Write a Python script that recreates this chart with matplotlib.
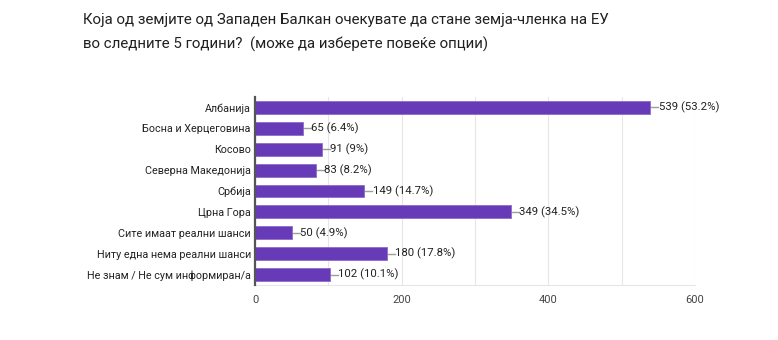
import matplotlib.pyplot as plt

plt.rcParams['font.family'] = ['Roboto', 'DejaVu Sans']

categories = ["Албанија", "Босна и Херцеговина", "Косово", "Северна Македонија",
              "Србија", "Црна Гора", "Сите имаат реални шанси",
              "Ниту една нема реални шанси", "Не знам / Не сум информиран/а"]
counts = [539, 65, 91, 83, 149, 349, 50, 180, 102]
percents = ["53.2%", "6.4%", "9%", "8.2%", "14.7%", "34.5%", "4.9%", "17.8%", "10.1%"]
ticks = [0, 200, 400, 600]

fig = plt.figure(figsize=(7.78, 3.40), dpi=100)
ax = fig.add_axes([255 / 778, 1 - 285 / 340, 440 / 778, 188 / 340])

ypos = list(range(len(categories)))
ax.barh(ypos, counts, height=0.62, color="#673ab7", edgecolor="#8e6cc9", linewidth=0.6, zorder=3)

for y, c, p in zip(ypos, counts, percents):
    ax.plot([c, c + 11], [y, y], color="#9e9e9e", lw=1, zorder=2, clip_on=False)
    ax.text(c + 11.5, y, f"{c} ({p})", va="center", ha="left", fontsize=8.2, color="#222222")

ax.set_xlim(0, 600)
ax.set_ylim(len(categories) - 0.5, -0.5)
ax.set_yticks(ypos)
ax.set_yticklabels(categories, fontsize=7.75, color="#222222")
ax.set_xticks(ticks)
ax.set_xticklabels([str(t) for t in ticks], fontsize=7.9, color="#444444")
ax.set_xticks(range(100, 600, 200), minor=True)
ax.tick_params(axis="both", length=0, pad=3)
ax.tick_params(axis="x", pad=7)
ax.tick_params(axis="x", which="minor", length=0)
ax.grid(axis="x", which="both", color="#e6e6e6", lw=0.8, zorder=0)

for s in ["top", "right"]:
    ax.spines[s].set_visible(False)
ax.spines["bottom"].set_color("#e6e6e6")
ax.spines["left"].set_color("#555555")
ax.spines["left"].set_linewidth(1.6)
ax.spines["left"].set_zorder(4)

fig.text(83 / 778, 1 - 20 / 340, "Која од земјите од Западен Балкан очекувате да стане земја-членка на ЕУ",
         fontsize=10.8, color="#212121", va="center", ha="left")
fig.text(83 / 778, 1 - 44 / 340, "во следните 5 години?  (може да изберете повеќе опции)",
         fontsize=10.8, color="#212121", va="center", ha="left")

fig.savefig("out.png", dpi=100)
